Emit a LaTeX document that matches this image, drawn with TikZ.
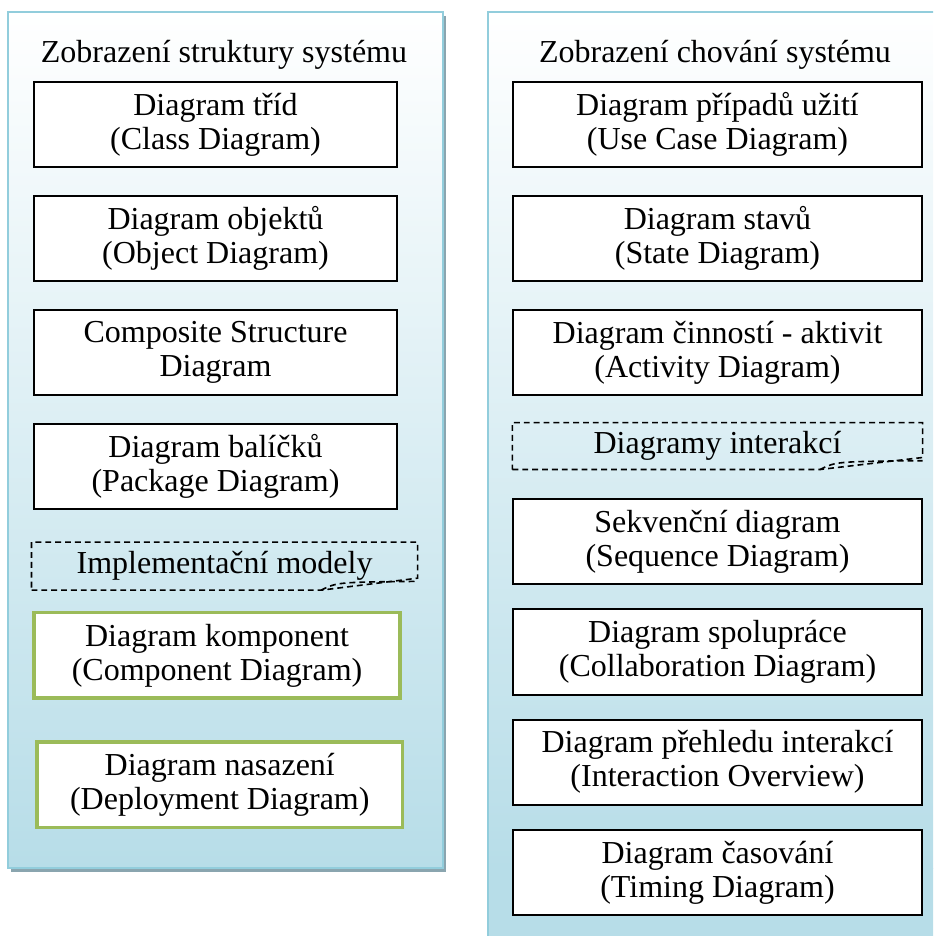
\documentclass[tikz,border=0pt]{standalone}
\usepackage{fontspec}
\setmainfont{Liberation Serif}
\usetikzlibrary{
  positioning,
  calc
}
\definecolor{panelblue}{RGB}{146,205,220}
\definecolor{panelfill}{RGB}{183,221,232}
\definecolor{panelshadow}{RGB}{138,165,175}
\definecolor{implgreen}{RGB}{155,187,89}
\tikzset{
  umlbox/.style={
    draw=black,
    line width=0.75pt,
    fill=white,
    align=center,
    minimum width=136pt,
    minimum height=32pt,
    inner sep=0pt,
    font=\fontsize{12}{12.75}\selectfont
  },
  widebox/.style={umlbox,minimum width=153.4pt},
  greenbox/.style={umlbox,draw=implgreen,line width=1.3pt,minimum width=137.2pt},
  groupbox/.style={
    align=center,
    minimum height=17.6pt,
    inner sep=0pt,
    font=\fontsize{12}{12.75}\selectfont
  },
  groupline/.style={draw=black,line width=0.6pt,dash pattern=on 2.2pt off 1.5pt},
  paneltitle/.style={font=\fontsize{12}{12.75}\selectfont,inner sep=0pt},
  panelshade/.style={top color=white,bottom color=panelfill,shading angle=0},
  panelline/.style={draw=panelblue,line width=1.1pt},
}
\begin{document}
\begin{tikzpicture}[x=0.375pt,y=-0.375pt,node distance=10pt]
  \clip (0,0) rectangle (933,936);

  % Left panel
  \fill[panelshadow] (11,16) rectangle (446,872);
  \shade[panelshade] (8,12) rectangle (443,868);
  \draw[panelline] (8,12) rectangle (443,868);

  % Right panel (runs off the page)
  \shade[panelshade] (488,12) rectangle (960,868);
  \fill[panelfill] (488,868) rectangle (960,960);
  \draw[panelline] (488,960) -- (488,12) -- (960,12);

  % Structure column
  \node[paneltitle] (stitle) at (224,55) {Zobrazení struktury systému};
  \node[umlbox] (cls) at (215.5,124.5) {Diagram tříd\\(Class Diagram)};
  \node[umlbox,below=of cls] (obj) {Diagram objektů\\(Object Diagram)};
  \node[umlbox,below=of obj] (cst) {Composite Structure\\Diagram};
  \node[umlbox,below=of cst] (pkg) {Diagram balíčků\\(Package Diagram)};
  \node[groupbox,minimum width=144.4pt,below=12pt of pkg,xshift=3.4pt] (impl) {Implementační modely};
  \node[greenbox,below=7.8pt of impl,xshift=-2.8pt] (cmpt) {Diagram komponent\\(Component Diagram)};
  \node[greenbox,below=15.2pt of cmpt,xshift=1pt] (depl) {Diagram nasazení\\(Deployment Diagram)};
  \draw[groupline] (impl.south west) -- ($(impl.south west)!0.75!(impl.south east)$) coordinate (implk)
    -- ($(impl.south east)+(0,4.5pt)$) -- (impl.north east) -- (impl.north west) -- cycle;
  \draw[groupline] (implk) .. controls ($(implk)+(6pt,3pt)$) .. ($(impl.south east)+(0,3.3pt)$);

  % Behaviour column
  \node[paneltitle] (btitle) at (715,55) {Zobrazení chování systému};
  \node[widebox] (ucase) at (717.5,124.5) {Diagram případů užití\\(Use Case Diagram)};
  \node[widebox,below=of ucase] (state) {Diagram stavů\\(State Diagram)};
  \node[widebox,below=of state] (activ) {Diagram činností - aktivit\\(Activity Diagram)};
  \node[groupbox,minimum width=153.4pt,minimum height=17.2pt,below=9.9pt of activ] (inter) {Diagramy interakcí};
  \node[widebox,below=10.7pt of inter] (seq) {Sekvenční diagram\\(Sequence Diagram)};
  \node[widebox,below=8.6pt of seq] (collab) {Diagram spolupráce\\(Collaboration Diagram)};
  \node[widebox,below=8.6pt of collab] (overv) {Diagram přehledu interakcí\\(Interaction Overview)};
  \node[widebox,below=8.6pt of overv] (timing) {Diagram časování\\(Timing Diagram)};
  \draw[groupline] (inter.south west) -- ($(inter.south west)!0.75!(inter.south east)$) coordinate (interk)
    -- ($(inter.south east)+(0,4.5pt)$) -- (inter.north east) -- (inter.north west) -- cycle;
  \draw[groupline] (interk) .. controls ($(interk)+(6pt,3pt)$) .. ($(inter.south east)+(0,3.3pt)$);
\end{tikzpicture}
\end{document}
